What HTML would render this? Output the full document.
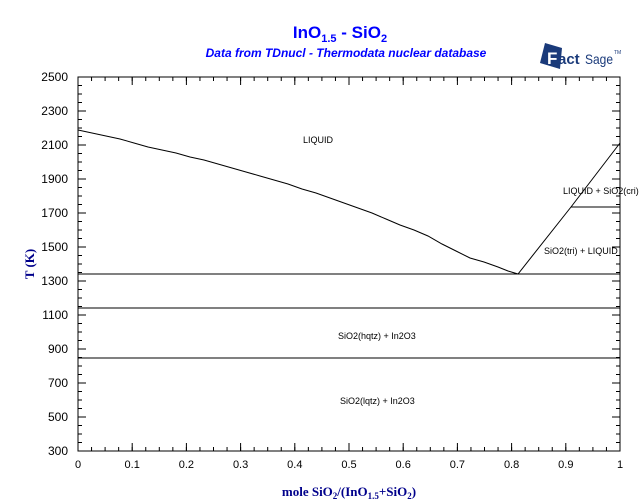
<!DOCTYPE html>
<html><head><meta charset="utf-8"><style>
body{margin:0;background:#fff;width:640px;height:504px;overflow:hidden}
svg{display:block}
</style></head><body>
<svg width="640" height="504" xmlns="http://www.w3.org/2000/svg" font-family="Liberation Sans, sans-serif">
<text x="340" y="38" text-anchor="middle" font-size="17" font-weight="bold" fill="#0000ff">InO<tspan font-size="11" dy="4">1.5</tspan><tspan dy="-4"> - SiO</tspan><tspan font-size="11" dy="4">2</tspan></text>
<text x="346" y="57" text-anchor="middle" font-size="12" font-weight="bold" font-style="italic" fill="#0000ff">Data from TDnucl - Thermodata nuclear database</text>
<g>
<polygon points="545,43 562,48 560,69 540,63" fill="#1a3a7a"/>
<text x="547" y="64" font-size="17" font-weight="bold" fill="#fff">F</text>
<text x="558" y="64" font-size="15" font-weight="bold" fill="#1a3a7a">act</text>
<text x="585" y="64" font-size="14" fill="#1a3a7a" textLength="28" lengthAdjust="spacingAndGlyphs">Sage</text>
<text x="614" y="54" font-size="5" fill="#1a3a7a">TM</text>
</g>
<rect x="78" y="77" width="542" height="374" fill="none" stroke="#000" stroke-width="1"/>
<g stroke="#000" fill="none">
<line x1="77.5" y1="79" x2="621" y2="79" stroke-width="4" stroke-dasharray="1 12.55"/>
<line x1="77.5" y1="81" x2="621" y2="81" stroke-width="8" stroke-dasharray="1 53.2"/>
<line x1="77.5" y1="449" x2="621" y2="449" stroke-width="4" stroke-dasharray="1 12.55"/>
<line x1="77.5" y1="447" x2="621" y2="447" stroke-width="8" stroke-dasharray="1 53.2"/>
<line x1="80" y1="451.5" x2="80" y2="76" stroke-width="4" stroke-dasharray="1 7.5"/>
<line x1="82" y1="451.5" x2="82" y2="76" stroke-width="8" stroke-dasharray="1 33"/>
<line x1="618" y1="451.5" x2="618" y2="76" stroke-width="4" stroke-dasharray="1 7.5"/>
<line x1="616" y1="451.5" x2="616" y2="76" stroke-width="8" stroke-dasharray="1 33"/>
</g>
<g font-size="12" fill="#000" text-anchor="end">
<text x="68" y="455">300</text><text x="68" y="421">500</text><text x="68" y="387">700</text><text x="68" y="353">900</text>
<text x="68" y="319">1100</text><text x="68" y="285">1300</text><text x="68" y="251">1500</text><text x="68" y="217">1700</text>
<text x="68" y="183">1900</text><text x="68" y="149">2100</text><text x="68" y="115">2300</text><text x="68" y="81">2500</text>
</g>
<g font-size="11" fill="#000" text-anchor="middle">
<text x="78" y="468">0</text><text x="132.2" y="468">0.1</text><text x="186.4" y="468">0.2</text><text x="240.6" y="468">0.3</text>
<text x="294.8" y="468">0.4</text><text x="349" y="468">0.5</text><text x="403.2" y="468">0.6</text><text x="457.4" y="468">0.7</text>
<text x="511.6" y="468">0.8</text><text x="565.8" y="468">0.9</text><text x="620" y="468">1</text>
</g>
<g stroke="#000" stroke-width="1" fill="none">
<polyline points="78,130 92,133 106,136 120,139 134,143 148,147 162,150 176,153 190,157 204,160 218,164 232,168 246,172 260,176 274,180 288,184 302,189 316,193 330,198 344,203 358,208 372,213 386,219 400,225 414,230 428,236 442,244 456,251 470,258 484,262 498,267 508,271 518,274 571,207 620,143"/>
<line x1="78" y1="274" x2="620" y2="274"/>
<line x1="78" y1="308" x2="620" y2="308"/>
<line x1="78" y1="358" x2="620" y2="358"/>
<line x1="571" y1="207" x2="620" y2="207"/>
</g>
<g font-size="9" fill="#000">
<text x="303" y="143">LIQUID</text>
<text x="563" y="194">LIQUID + SiO2(cri)</text>
<text x="544" y="254">SiO2(tri) + LIQUID</text>
<text x="338" y="339">SiO2(hqtz) + In2O3</text>
<text x="340" y="404">SiO2(lqtz) + In2O3</text>
</g>
<text x="30" y="268" font-family="Liberation Serif, serif" font-size="13" font-weight="bold" fill="#00008b" text-anchor="middle" transform="rotate(-90 30 264)">T (K)</text>
<text x="349" y="496" text-anchor="middle" font-family="Liberation Serif, serif" font-size="13" font-weight="bold" fill="#00008b">mole SiO<tspan font-size="9" dy="3">2</tspan><tspan dy="-3">/(InO</tspan><tspan font-size="9" dy="3">1.5</tspan><tspan dy="-3">+SiO</tspan><tspan font-size="9" dy="3">2</tspan><tspan dy="-3">)</tspan></text>
</svg>
</body></html>
